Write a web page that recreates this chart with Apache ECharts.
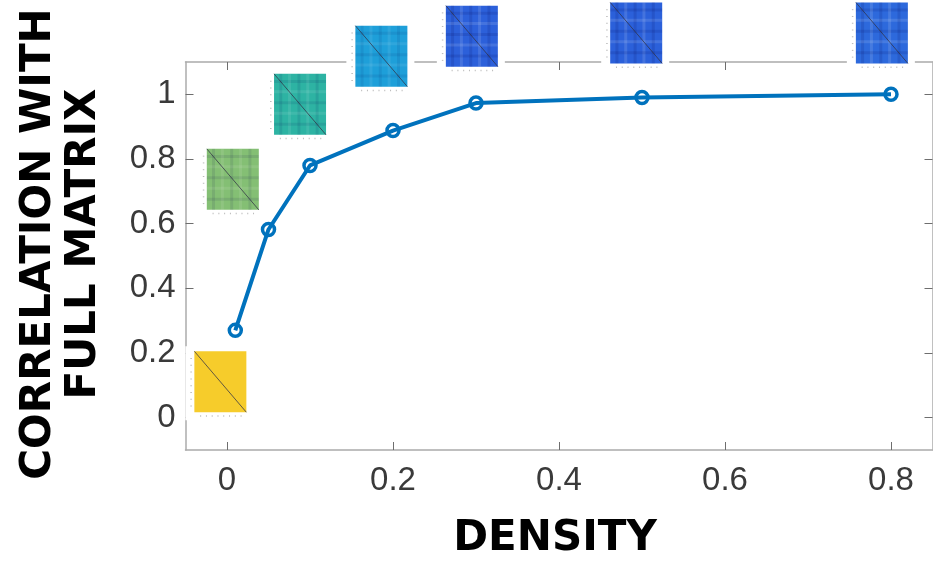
<!DOCTYPE html>
<html>
<head>
<meta charset="utf-8">
<script src="https://cdn.jsdelivr.net/npm/echarts@6/dist/echarts.min.js"></script>
<style>
  html, body { margin: 0; padding: 0; background: #fff; }
  #chart { width: 933px; height: 561px; }
</style>
</head>
<body>
<div id="chart"></div>
<script>
// density vs correlation with the full matrix
const density = [0.01, 0.05, 0.1, 0.2, 0.3, 0.5, 0.8]
const correlation = [0.27, 0.582, 0.78, 0.888, 0.973, 0.99, 1.0]

const xTicks = [0, 0.2, 0.4, 0.6, 0.8]
const yTicks = [0, 0.2, 0.4, 0.6, 0.8, 1]

// matrix thumbnails (centre in data units) shown next to each density
const thumbX = [-0.008, 0.007, 0.088, 0.186, 0.295, 0.493, 0.789]
const thumbY = [0.111, 0.737, 0.969, 1.118, 1.18, 1.19, 1.19]
const thumbColors = ['#F6CC2B', '#84BF74', '#2DB3A3', '#1E9FD9', '#2C60DA', '#2B60DA', '#2D69DC']
const thumbTexture = [0, 0.09, 0.09, 0.08, 0.12, 0.12, 0.12]

const axisGray = '#ababab'
const tickGray = '#6e6e6e'
const labelColor = '#3a3a3a'
const lineBlue = '#0072BD'

const chart = echarts.init(document.getElementById('chart'))

const bands = [0.1, 0.27, 0.45, 0.62, 0.8]

function renderThumb(params, api) {
  const c = api.coord([api.value(0), api.value(1)])
  const w = 52
  const h = 61
  const x0 = c[0] - w / 2
  const y0 = c[1] - h / 2
  const i = params.dataIndex
  const a = thumbTexture[i]
  const children = [
    { type: 'rect', shape: { x: x0 - 9, y: y0 - 5, width: w + 16, height: h + 13 }, style: { fill: '#fff' } },
    { type: 'rect', shape: { x: x0, y: y0, width: w, height: h }, style: { fill: thumbColors[i] } }
  ]
  if (a > 0) {
    bands.forEach((f, k) => {
      const fill = k % 2 ? 'rgba(255,255,255,' + a + ')' : 'rgba(0,0,80,' + a + ')'
      children.push({ type: 'rect', shape: { x: x0 + f * w, y: y0, width: 3, height: h }, style: { fill } })
      children.push({ type: 'rect', shape: { x: x0, y: y0 + f * h, width: w, height: 3 }, style: { fill } })
    })
  }
  children.push({
    type: 'line',
    shape: { x1: x0, y1: y0, x2: x0 + w, y2: y0 + h },
    style: { stroke: 'rgba(50,50,70,0.75)', lineWidth: 1 }
  })
  for (let k = 1; k <= 8; k++) {
    children.push({ type: 'rect', shape: { x: x0 + k * w / 9, y: y0 + h + 3, width: 1, height: 1.5 }, style: { fill: '#bbb' } })
    children.push({ type: 'rect', shape: { x: x0 - 4, y: y0 + k * h / 9, width: 1.5, height: 1 }, style: { fill: '#bbb' } })
  }
  return { type: 'group', children }
}

const lineOpt = { show: true, onZero: false, lineStyle: { color: axisGray, width: 1.5 } }

function tickOpt(values) {
  return { show: true, inside: true, length: 8, customValues: values, lineStyle: { color: tickGray, width: 1 } }
}

const labelFont = { color: labelColor, fontSize: 33, fontFamily: 'Liberation Sans' }

chart.setOption({
  animation: false,
  grid: { left: 185.5, right: 0.5, top: 62, bottom: 111, containLabel: false },
  xAxis: [{
    type: 'value',
    min: -0.05,
    max: 0.85,
    axisLine: lineOpt,
    axisTick: tickOpt(xTicks),
    axisLabel: Object.assign({ customValues: xTicks, margin: 14 }, labelFont),
    splitLine: { show: false }
  }, {
    type: 'value',
    position: 'top',
    min: -0.05,
    max: 0.85,
    axisLine: lineOpt,
    axisTick: tickOpt(xTicks),
    axisLabel: { show: false },
    splitLine: { show: false }
  }],
  yAxis: [{
    type: 'value',
    min: -0.1,
    max: 1.1,
    axisLine: lineOpt,
    axisTick: tickOpt(yTicks),
    axisLabel: Object.assign({ customValues: yTicks, margin: 10 }, labelFont),
    splitLine: { show: false }
  }, {
    type: 'value',
    position: 'right',
    min: -0.1,
    max: 1.1,
    axisLine: lineOpt,
    axisTick: tickOpt(yTicks),
    axisLabel: { show: false },
    splitLine: { show: false }
  }],
  graphic: [{
    type: 'text',
    x: 62,
    y: 244,
    rotation: Math.PI / 2,
    style: {
      text: 'CORRELATION WITH\nFULL MATRIX',
      font: 'bold 42px "DejaVu Sans"',
      fill: '#000',
      align: 'center',
      verticalAlign: 'middle',
      lineHeight: 45
    }
  }, {
    type: 'text',
    x: 555,
    y: 539,
    style: {
      text: 'DENSITY',
      font: 'bold 42px "DejaVu Sans"',
      fill: '#000',
      align: 'center',
      verticalAlign: 'middle'
    }
  }],
  series: [{
    type: 'line',
    data: density.map((d, i) => [d, correlation[i]]),
    symbol: 'circle',
    symbolSize: 12,
    lineStyle: { color: lineBlue, width: 4 },
    itemStyle: { color: 'rgba(0,0,0,0)', borderColor: lineBlue, borderWidth: 3.5 },
    z: 3
  }, {
    type: 'custom',
    clip: false,
    renderItem: renderThumb,
    data: thumbX.map((x, i) => [x, thumbY[i]]),
    z: 5
  }]
})
</script>
</body>
</html>
